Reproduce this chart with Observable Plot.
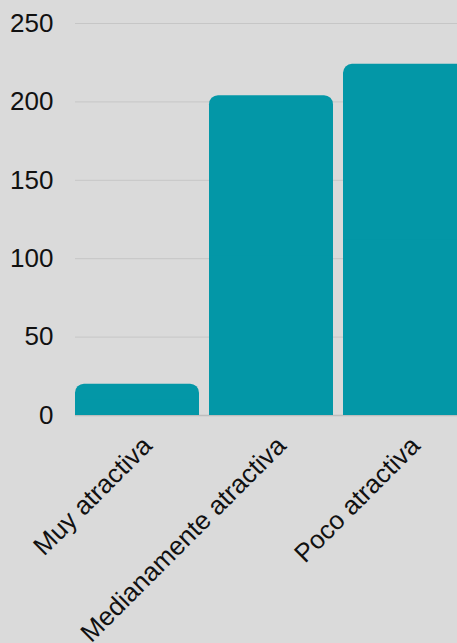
<!DOCTYPE html>
<html>
<head>
<meta charset="utf-8">
<script src="https://cdn.jsdelivr.net/npm/d3@7"></script>
<script src="https://cdn.jsdelivr.net/npm/@observablehq/plot@0.6"></script>
<style>
  html, body { margin: 0; padding: 0; background: #dadada; overflow: hidden; }
  #chart { width: 457px; height: 643px; overflow: hidden; }
</style>
</head>
<body>
<div id="chart"></div>
<script>
const categories = ["Muy atractiva", "Medianamente atractiva", "Poco atractiva"];
const counts = [20, 204, 224];
const yTicks = [0, 50, 100, 150, 200, 250];

const data = categories.map((c, i) => ({category: c, count: counts[i]}));

const chart = Plot.plot({
  width: 467,
  height: 643,
  marginLeft: 75,
  marginRight: 0,
  marginTop: 23,
  marginBottom: 228,
  style: {
    background: "#dadada",
    maxWidth: "none",
    fontFamily: "'Liberation Sans', Arial, sans-serif",
    fontSize: "26px",
    color: "#111"
  },
  x: {
    domain: categories,
    paddingInner: 0.075,
    paddingOuter: 0,
    label: null
  },
  y: {
    domain: [0, 250],
    ticks: yTicks,
    label: null,
    tickSize: 0,
    tickPadding: 22
  },
  marks: [
    Plot.ruleY(yTicks.filter(t => t > 0), {stroke: "#c6c6c6", strokeWidth: 1}),
    Plot.ruleY([0], {stroke: "#bdbdbd", strokeWidth: 1.5}),
    Plot.barY(data, {x: "category", y: "count", fill: "#0397a7", rx: 9}),
    Plot.barY(data, {x: "category", y1: 0, y2: d => d.count / 2, fill: "#0397a7"}),
    Plot.axisX({tickSize: 0, tickRotate: -45, tickPadding: 26, dx: 10, fontSize: 26})
  ]
});
document.getElementById("chart").append(chart);
</script>
</body>
</html>
